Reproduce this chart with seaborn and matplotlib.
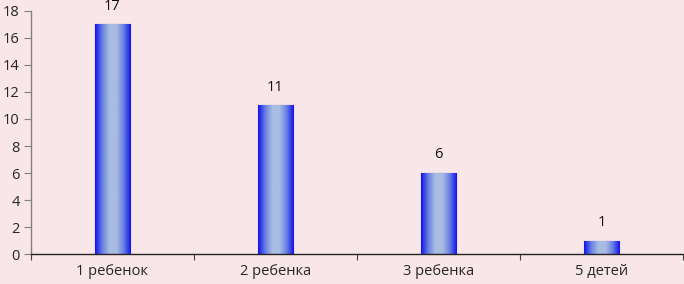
import numpy as np
import pandas as pd
import seaborn as sns
from matplotlib import pyplot as plt
from matplotlib.colors import LinearSegmentedColormap

categories = ['1 ребенок', '2 ребенка', '3 ребенка', '5 детей']
counts = [17, 11, 6, 1]
y_ticks = [0, 2, 4, 6, 8, 10, 12, 14, 16, 18]

bg = '#F9E6E8'
sns.set_style("white", {"axes.facecolor": bg})
plt.rcParams['font.family'] = ['Open Sans', 'DejaVu Sans']

fig = plt.figure(figsize=(6.84, 2.84), dpi=100, facecolor=bg)
ax = fig.add_axes([0.0453, 0.1056, 0.9532, 0.8557])

df = pd.DataFrame({'cat': categories, 'n': counts})
sns.barplot(ax=ax, data=df, x='cat', y='n', width=0.22, color='#1A1AE6',
            edgecolor='#1010E0', linewidth=0.8)

# cylinder-like shading across each bar
cmap = LinearSegmentedColormap.from_list(
    'bar', ['#1414E8', '#6A82E4', '#A9BCE2', '#A9BCE2', '#6A82E4', '#1414E8'])
grad = np.linspace(0, 1, 64).reshape(1, -1)
for patch in ax.patches:
    x0, y0 = patch.get_x(), patch.get_y()
    w, h = patch.get_width(), patch.get_height()
    im = ax.imshow(grad, cmap=cmap, aspect='auto', extent=(x0, x0 + w, y0, y0 + h),
                   zorder=patch.get_zorder() + 0.1, interpolation='bilinear')
    im.set_clip_path(patch)
    ax.text(x0 + w / 2, h + 0.8, str(int(h)), ha='center', va='bottom',
            fontsize=10.5, color='#111111')

ax.set_xlim(-0.5, len(categories) - 0.5)
ax.set_ylim(0, 18)
ax.set_yticks(y_ticks)
ax.set_xlabel('')
ax.set_ylabel('')

ax.set_xticks(np.arange(len(categories)))
ax.set_xticklabels(categories)
ax.set_xticks(np.arange(len(categories) + 1) - 0.5, minor=True)
ax.tick_params(axis='x', which='major', bottom=False, length=0, labelsize=10.5, pad=7)
ax.tick_params(axis='x', which='minor', bottom=True, length=4, width=0.8,
               color='#404040', direction='out')
ax.tick_params(axis='y', left=True, length=5, width=0.8, color='#808080',
               labelsize=10.5, pad=3)
for t in ax.xaxis.get_minorticklines():
    t.set_clip_on(False)

sns.despine(ax=ax)
ax.spines['left'].set_color('#808080')
ax.spines['bottom'].set_color('#222222')
ax.spines['left'].set_linewidth(1.0)
ax.spines['bottom'].set_linewidth(1.0)

fig.savefig('out.png', dpi=100, facecolor=bg)
